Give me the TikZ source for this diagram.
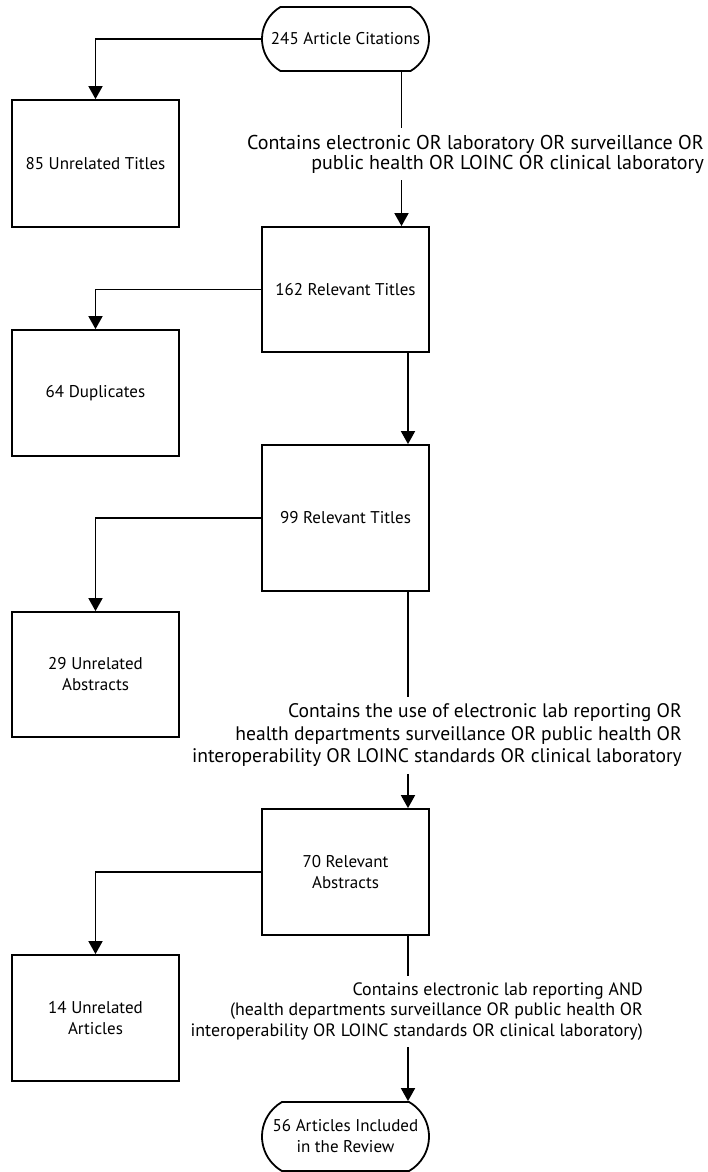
\documentclass[tikz,border=0pt]{standalone}
\usepackage{fontspec}
\setmainfont{PT Sans}
\usetikzlibrary{arrows.meta,shapes.misc}

\begin{document}
\begin{tikzpicture}[x=1pt, y=-1pt,
    box/.style={draw, line width=1.8pt, minimum width=167pt, align=center, inner sep=0pt,
      font=\fontsize{17}{21}\selectfont},
    term/.style={box, rounded rectangle, rounded rectangle arc length=120},
    crit/.style={align=right, anchor=east, inner sep=0pt, outer ysep=7pt},
    link/.style={line width=1.8pt},
    arr/.style={link, -{Triangle[width=14pt,length=13pt]}}]
\useasboundingbox (0,0) rectangle (707,1172);

\node[term, minimum height=64pt] (cites) at (345.5,39) {245 Article Citations};
\node[box, minimum height=127pt] (unrel1) at (95.5,163.5) {85 Unrelated Titles};
\node[crit, font=\fontsize{20}{20}\selectfont] (crit1) at (704,154)
  {Contains electronic OR laboratory OR surveillance OR\\
  public health OR LOINC OR clinical laboratory};
\node[box, minimum height=125pt] (rel1) at (345.5,289.5) {162 Relevant Titles};
\node[box, minimum height=126pt] (dupl) at (95.5,393) {64 Duplicates};
\node[box, minimum height=146pt] (rel2) at (345.5,518) {99 Relevant Titles};
\node[box, minimum height=125pt] (unrel2) at (95.5,674.5) {29 Unrelated\\Abstracts};
\node[crit, font=\fontsize{19.6}{22.5}\selectfont] (crit2) at (682,735.5)
  {Contains the use of electronic lab reporting OR\\
  health departments surveillance OR public health OR\\
  interoperability OR LOINC standards OR clinical laboratory};
\node[box, minimum height=126pt] (rel3) at (345.5,872) {70 Relevant\\Abstracts};
\node[box, minimum height=126pt] (unrel3) at (95.5,1018) {14 Unrelated\\Articles};
\node[crit, font=\fontsize{17.9}{20.5}\selectfont] (crit3) at (643,1011.5)
  {Contains electronic lab reporting AND\\
  (health departments surveillance OR public health OR\\
  interoperability OR LOINC standards OR clinical laboratory)};
\node[term, minimum height=69pt] (incl) at (345.5,1136.5) {56 Articles Included\\in the Review};

\coordinate (t1) at ([xshift=56pt]cites.south);
\coordinate (b1) at ([xshift=56pt]rel1.north);
\coordinate (t2) at ([xshift=62.5pt]rel2.south);
\coordinate (b2) at ([xshift=62.5pt]rel3.north);
\coordinate (t3) at ([xshift=62.5pt]rel3.south);
\coordinate (b3) at ([xshift=62.5pt]incl.north);

\draw[arr] (cites.west) -| (unrel1.north);
\draw[link] (t1) -- (t1 |- crit1.north);
\draw[arr] (t1 |- crit1.south) -- (b1);
\draw[arr] (rel1.west) -| (dupl.north);
\draw[arr] ([xshift=62.5pt]rel1.south) -- ([xshift=62.5pt]rel2.north);
\draw[arr] (rel2.west) -| (unrel2.north);
\draw[link] (t2) -- (t2 |- crit2.north);
\draw[arr] (t2 |- crit2.south) -- (b2);
\draw[arr] (rel3.west) -| (unrel3.north);
\draw[link] (t3) -- (t3 |- crit3.north);
\draw[arr] (t3 |- crit3.south) -- (b3);
\end{tikzpicture}
\end{document}
